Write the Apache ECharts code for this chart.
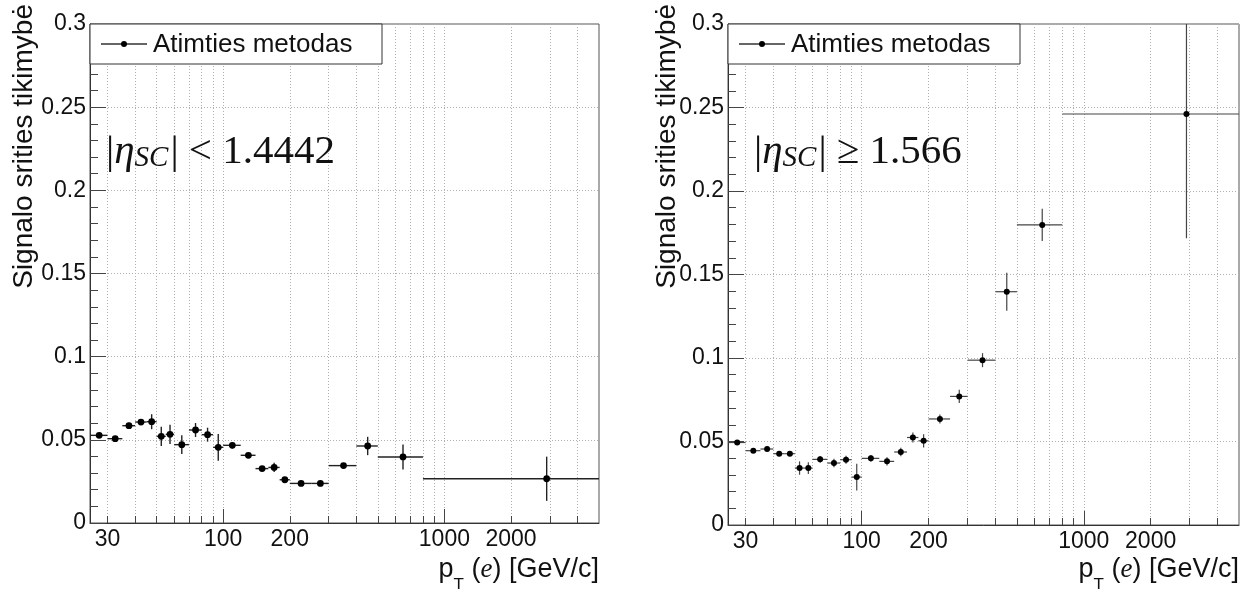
<!DOCTYPE html>
<html>
<head>
<meta charset="utf-8">
<script src="https://cdn.jsdelivr.net/npm/echarts@6/dist/echarts.min.js"></script>
<style>
  html, body { margin: 0; padding: 0; background: #fff; }
  #chart { width: 1255px; height: 589px; }
</style>
</head>
<body>
<div id="chart"></div>
<script>
// ---- data ----
const binEdges = [25, 30, 35, 40, 45, 50, 55, 60, 70, 80, 90, 100, 120, 140, 160, 180, 200, 250, 300, 400, 500, 800, 5000];
const leftValues = [0.0527, 0.0507, 0.0585, 0.0607, 0.0609, 0.0521, 0.0533, 0.0471, 0.0559, 0.0531, 0.0455, 0.0467, 0.0407, 0.0327, 0.0334, 0.0260, 0.0238, 0.0238, 0.0345, 0.0463, 0.0397, 0.0266];
const leftErrors = [0.0012, 0.0012, 0.0018, 0.0018, 0.0045, 0.0058, 0.0058, 0.0056, 0.0042, 0.0042, 0.0080, 0.0018, 0.0015, 0.0015, 0.0028, 0.0012, 0.0010, 0.0010, 0.0015, 0.0055, 0.0075, 0.0133];
const rightValues = [0.0494, 0.0445, 0.0455, 0.0427, 0.0427, 0.0341, 0.0341, 0.0393, 0.0371, 0.0391, 0.0287, 0.0399, 0.0381, 0.0437, 0.0524, 0.0504, 0.0635, 0.0770, 0.0987, 0.1397, 0.1797, 0.2461];
const rightErrors = [0.0012, 0.0012, 0.0012, 0.0012, 0.0012, 0.0040, 0.0035, 0.0020, 0.0025, 0.0024, 0.0080, 0.0020, 0.0024, 0.0025, 0.0030, 0.0040, 0.0027, 0.0040, 0.0042, 0.0114, 0.0097, 0.0744];
const xTickValues = [30, 40, 50, 60, 70, 80, 90, 100, 200, 300, 400, 500, 600, 700, 800, 900, 1000, 2000, 3000, 4000];
const xMajorTicks = [100, 1000];
const xLabelValues = [30, 100, 200, 1000, 2000];
const yTitle = 'Signalo srities tikimybė';
const legendName = 'Atimties metodas';
const xMin = 25, xMax = 5000, yMin = 0, yMax = 0.3;

function buildData(values, errors) {
  return values.map((v, i) => {
    const lo = binEdges[i], hi = binEdges[i + 1];
    return [(lo + hi) / 2, v, lo, hi, errors[i]];
  });
}

function makeRender(r, color, lw) {
  return function (params, api) {
    const x = api.value(0), y = api.value(1), lo = api.value(2), hi = api.value(3), e = api.value(4);
    const c = api.coord([x, y]);
    const pl = api.coord([lo, y]), ph = api.coord([hi, y]);
    const pt = api.coord([x, Math.min(y + e, yMax)]);
    const pb = api.coord([x, Math.max(y - e, yMin)]);
    const st = { stroke: color, lineWidth: lw };
    return {
      type: 'group',
      children: [
        { type: 'line', shape: { x1: pl[0], y1: c[1], x2: ph[0], y2: c[1] }, style: st },
        { type: 'line', shape: { x1: c[0], y1: pt[1], x2: c[0], y2: pb[1] }, style: st },
        { type: 'circle', shape: { cx: c[0], cy: c[1], r: r }, style: { fill: '#000' } }
      ]
    };
  };
}

const grids = [
  { left: 90, top: 24, width: 509, height: 499 },
  { left: 728, top: 24, width: 511, height: 501 }
];

const fontSans = 'Liberation Sans, Arial, sans-serif';
const fontSerif = 'Liberation Serif, Times New Roman, serif';
const gridColor = '#b0b0b0';

function xAxesFor(g) {
  return [
    {
      type: 'log', logBase: 10, min: xMin, max: xMax, gridIndex: g, position: 'bottom',
      axisLine: { show: true, onZero: false, lineStyle: { color: '#333', width: 1 } },
      axisTick: { show: true, inside: true, length: 7, customValues: xTickValues, lineStyle: { color: '#444' } },
      axisLabel: { show: true, customValues: xLabelValues, fontSize: 23, fontFamily: fontSans, color: '#111', margin: 5,
        formatter: v => String(Math.round(v)) },
      splitLine: { show: true, lineStyle: { color: gridColor, type: [1, 2], width: 1 } },
      minorTick: { show: false }
    },
    {
      type: 'log', logBase: 10, min: xMin, max: xMax, gridIndex: g, position: 'bottom',
      axisLine: { show: false },
      axisTick: { show: true, inside: true, length: 14, customValues: xMajorTicks, lineStyle: { color: '#444' } },
      axisLabel: { show: false },
      splitLine: { show: false }
    }
  ];
}

function yAxisFor(g) {
  return {
    type: 'value', min: yMin, max: yMax, interval: 0.05, gridIndex: g,
    axisLine: { show: true, onZero: false, lineStyle: { color: '#333', width: 1 } },
    axisTick: { show: true, inside: true, length: 16, lineStyle: { color: '#444' } },
    minorTick: { show: true, splitNumber: 5, length: 8, lineStyle: { color: '#444' } },
    axisLabel: { fontSize: 23, fontFamily: fontSans, color: '#111', margin: 4 },
    splitLine: { show: true, lineStyle: { color: gridColor, type: [1, 2], width: 1 } }
  };
}

function legendGraphic(gx, gy) {
  return [
    { type: 'rect', shape: { x: gx, y: gy, width: 292, height: 40 }, style: { fill: '#fff', stroke: '#333', lineWidth: 1 }, z: 100 },
    { type: 'line', shape: { x1: gx + 11, y1: gy + 20, x2: gx + 57, y2: gy + 20 }, style: { stroke: '#333', lineWidth: 1.3 }, z: 101 },
    { type: 'circle', shape: { cx: gx + 34, cy: gy + 20, r: 3 }, style: { fill: '#000' }, z: 102 },
    { type: 'text', x: gx + 63, y: gy + 21, style: { text: legendName, font: '26px ' + fontSans, fill: '#111', textVerticalAlign: 'middle' }, z: 102 }
  ];
}

function etaText(x, y, rest) {
  return {
    type: 'text', x: x, y: y, z: 50,
    style: {
      text: '{n||}{e|η}{s|SC}{n|| ' + rest + '}',
      fill: '#111',
      textVerticalAlign: 'middle',
      rich: {
        n: { fontFamily: fontSerif, fontSize: 41, lineHeight: 50, verticalAlign: 'middle' },
        e: { fontFamily: fontSerif, fontStyle: 'italic', fontSize: 41, lineHeight: 50, verticalAlign: 'middle' },
        s: { fontFamily: fontSerif, fontStyle: 'italic', fontSize: 29, lineHeight: 50, verticalAlign: 'bottom', padding: [0, 2, 4, 0] }
      }
    }
  };
}

function xTitle(x, y) {
  return {
    type: 'text', x: x, y: y, z: 50,
    style: {
      text: '{p|p}{t|T}{p| (}{i|e}{p|) [GeV/c]}',
      fill: '#111',
      textAlign: 'right',
      textVerticalAlign: 'middle',
      rich: {
        p: { fontFamily: fontSans, fontSize: 27, lineHeight: 36, verticalAlign: 'middle' },
        i: { fontFamily: fontSerif, fontStyle: 'italic', fontSize: 27, lineHeight: 36, verticalAlign: 'middle' },
        t: { fontFamily: fontSans, fontSize: 17, lineHeight: 48, verticalAlign: 'bottom' }
      }
    }
  };
}

function yTitleG(x, y) {
  return {
    type: 'text', x: x, y: y, rotation: Math.PI / 2, z: 50,
    style: { text: yTitle, font: '28px ' + fontSans, fill: '#111', textAlign: 'right', textVerticalAlign: 'middle' }
  };
}

const option = {
  animation: false,
  backgroundColor: '#fff',
  grid: grids.map(g => Object.assign({ show: true, borderColor: '#555', borderWidth: 1, backgroundColor: 'transparent' }, g)),
  xAxis: [...xAxesFor(0), ...xAxesFor(1)],
  yAxis: [yAxisFor(0), yAxisFor(1)],
  series: [
    { type: 'custom', name: legendName, xAxisIndex: 0, yAxisIndex: 0, renderItem: makeRender(3.4, '#222', 1.4), data: buildData(leftValues, leftErrors), z: 10, clip: true },
    { type: 'custom', name: legendName, xAxisIndex: 2, yAxisIndex: 1, renderItem: makeRender(3, '#444', 1.2), data: buildData(rightValues, rightErrors), z: 10, clip: true }
  ],
  graphic: [
    ...legendGraphic(90, 24),
    ...legendGraphic(728, 24),
    etaText(106, 152, '< 1.4442'),
    etaText(754, 152, '≥ 1.566'),
    xTitle(599, 570),
    xTitle(1239, 570),
    yTitleG(24, 4),
    yTitleG(667, 4)
  ]
};

const chart = echarts.init(document.getElementById('chart'), null, { renderer: 'canvas' });
chart.setOption(option);
</script>
</body>
</html>
